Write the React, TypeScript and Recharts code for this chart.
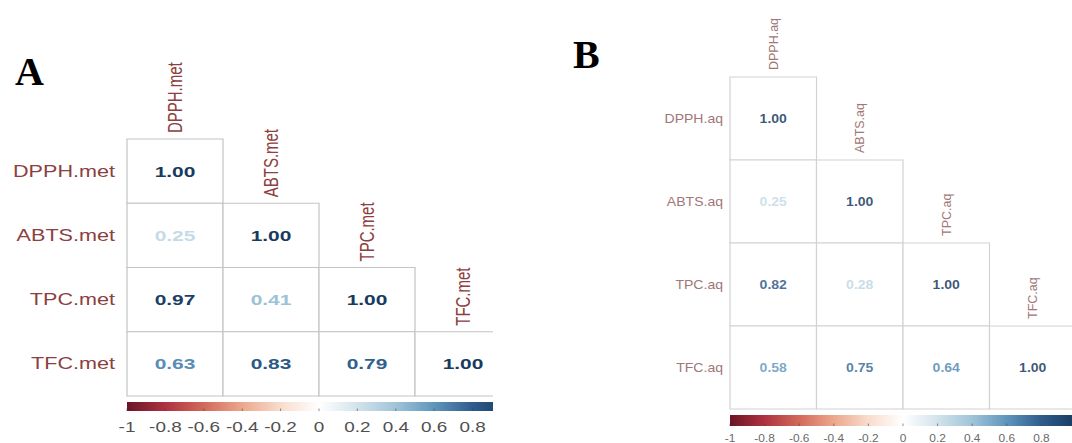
import React from "react";
import { ScatterChart, Scatter, XAxis, YAxis, ReferenceArea } from "recharts";

// variable names, in matrix order
const LABELS_A = ["DPPH.met", "ABTS.met", "TPC.met", "TFC.met"];
const LABELS_B = ["DPPH.aq", "ABTS.aq", "TPC.aq", "TFC.aq"];

// lower-triangle correlation rows (row r holds columns 0..r)
const CORR_A = [[1.0], [0.25, 1.0], [0.97, 0.41, 1.0], [0.63, 0.83, 0.79, 1.0]];
const CORR_B = [[1.0], [0.25, 1.0], [0.82, 0.28, 1.0], [0.58, 0.75, 0.64, 1.0]];

const SCALE_TICKS = [-1, -0.8, -0.6, -0.4, -0.2, 0, 0.2, 0.4, 0.6, 0.8, 1];

// RdBu-ish palette, a bit washed out like the scanned figure
const PALETTE: [number, string][] = [
  [-1, "#6b1424"],
  [-0.8, "#ad3340"],
  [-0.6, "#d2695a"],
  [-0.4, "#eca88c"],
  [-0.2, "#f8dccd"],
  [0, "#ffffff"],
  [0.2, "#d2e3ec"],
  [0.4, "#9fc4d8"],
  [0.6, "#5f95bb"],
  [0.8, "#2e5d8c"],
  [1, "#183a60"],
];

const hex = (s: string) => [1, 3, 5].map((i) => parseInt(s.slice(i, i + 2), 16));

function colorFor(v: number) {
  for (let i = 1; i < PALETTE.length; i++) {
    const [v1, c1] = PALETTE[i];
    const [v0, c0] = PALETTE[i - 1];
    if (v <= v1) {
      const t = (v - v0) / (v1 - v0);
      const a = hex(c0);
      const b = hex(c1);
      const m = a.map((x, k) => Math.round(x + (b[k] - x) * t));
      return `rgb(${m.join(",")})`;
    }
  }
  return PALETTE[PALETTE.length - 1][1];
}

type PanelStyle = {
  id: string;
  width: number;
  height: number;
  margin: { top: number; right: number; left: number; bottom: number };
  stretch: number;
  labelSize: number;
  colLabelSize: number;
  valueSize: number;
  tickSize: number;
  labelColor: string;
  tickColor: string;
  gridColor: string;
  rowGap: number;
  colGap: number;
  bar: [number, number]; // colorbar band, in row units below the grid
  tickBaseline: number;
  barBottom: number;
  valueOpacity: number;
};

const FONT = "'Liberation Sans', Arial, sans-serif";

function CorrPanel({ labels, corr, s }: { labels: string[]; corr: number[][]; s: PanelStyle }) {
  const n = labels.length;
  const cells = corr.flatMap((row, r) => row.map((v, c) => ({ x: c + 0.5, y: r + 0.5, r, c, v })));
  const rowLabels = labels.map((label, r) => ({ x: 0, y: r + 0.5, label }));
  const colLabels = labels.map((label, c) => ({ x: c + 0.5, y: c, label }));
  const ticks = SCALE_TICKS.map((v) => ({ x: v, y: n }));

  return (
    <ScatterChart width={s.width} height={s.height} margin={s.margin}>
      <defs>
        <linearGradient id={`cb-${s.id}`} x1="0" x2="1" y1="0" y2="0">
          {PALETTE.map(([v, c]) => (
            <stop key={v} offset={(v + 1) / 2} stopColor={c} />
          ))}
        </linearGradient>
      </defs>
      <XAxis xAxisId="grid" type="number" dataKey="x" domain={[0, n]} hide />
      <XAxis xAxisId="cb" type="number" dataKey="x" domain={[-1, 1]} hide />
      <YAxis type="number" dataKey="y" domain={[0, n]} reversed hide />

      {cells.map((d) => (
        <ReferenceArea
          key={`${d.r}-${d.c}`}
          xAxisId="grid"
          x1={d.c}
          x2={d.c + 1}
          y1={d.r}
          y2={d.r + 1}
          fill="#ffffff"
          fillOpacity={1}
          stroke={s.gridColor}
          strokeWidth={1.2}
          ifOverflow="visible"
        />
      ))}

      <ReferenceArea
        xAxisId="grid"
        x1={0}
        x2={n}
        y1={n + s.bar[0]}
        y2={n + s.bar[1]}
        fill={`url(#cb-${s.id})`}
        fillOpacity={1}
        stroke="none"
        ifOverflow="visible"
      />

      <Scatter
        xAxisId="cb"
        data={ticks}
        isAnimationActive={false}
        shape={(p: any) => (
          <g>
            <line
              x1={p.cx}
              x2={p.cx}
              y1={p.cy + s.barBottom - 2.5}
              y2={p.cy + s.barBottom}
              stroke="#444"
              strokeOpacity={0.6}
            />
            <text
              transform={`translate(${p.cx},${p.cy + s.tickBaseline}) scale(${s.stretch},1)`}
              textAnchor="middle"
              fontSize={s.tickSize}
              fontFamily={FONT}
              fill={s.tickColor}
            >
              {p.payload.x}
            </text>
          </g>
        )}
      />

      <Scatter
        xAxisId="grid"
        data={cells}
        isAnimationActive={false}
        shape={(p: any) => (
          <text
            transform={`translate(${p.cx},${p.cy}) scale(${s.stretch},1)`}
            textAnchor="middle"
            dominantBaseline="central"
            fontSize={s.valueSize}
            fontWeight="bold"
            fontFamily={FONT}
            fill={colorFor(p.payload.v)}
            fillOpacity={s.valueOpacity}
          >
            {p.payload.v.toFixed(2)}
          </text>
        )}
      />
      <Scatter
        xAxisId="grid"
        data={rowLabels}
        isAnimationActive={false}
        shape={(p: any) => (
          <text
            transform={`translate(${p.cx - s.rowGap},${p.cy}) scale(${s.stretch},1)`}
            textAnchor="end"
            dominantBaseline="central"
            fontSize={s.labelSize}
            fontFamily={FONT}
            fill={s.labelColor}
          >
            {p.payload.label}
          </text>
        )}
      />
      <Scatter
        xAxisId="grid"
        data={colLabels}
        isAnimationActive={false}
        shape={(p: any) => (
          <text
            transform={`translate(${p.cx},${p.cy - s.colGap}) scale(${s.stretch},1) rotate(-90)`}
            textAnchor="start"
            dominantBaseline="central"
            fontSize={s.colLabelSize}
            fontFamily={FONT}
            fill={s.labelColor}
          >
            {p.payload.label}
          </text>
        )}
      />
    </ScatterChart>
  );
}

const STYLE_A: PanelStyle = {
  id: "a",
  width: 520,
  height: 443,
  margin: { top: 139, right: 9, left: 127, bottom: 47 },
  stretch: 1.35,
  labelSize: 16,
  colLabelSize: 15,
  valueSize: 15.5,
  tickSize: 14,
  labelColor: "#8c4040",
  tickColor: "#505050",
  gridColor: "#c4c4c4",
  rowGap: 12,
  colGap: 6,
  bar: [0.093, 0.233],
  tickBaseline: 36,
  barBottom: 15,
  valueOpacity: 1,
};

const STYLE_B: PanelStyle = {
  id: "b",
  width: 530,
  height: 470,
  margin: { top: 77, right: 14, left: 170, bottom: 61 },
  stretch: 1.08,
  labelSize: 13,
  colLabelSize: 12.5,
  valueSize: 13,
  tickSize: 11,
  labelColor: "#a07676",
  tickColor: "#6a6a6a",
  gridColor: "#d2d2d2",
  rowGap: 7,
  colGap: 7,
  bar: [0.072, 0.205],
  tickBaseline: 32.5,
  barBottom: 17,
  valueOpacity: 0.85,
};

export default function App() {
  const title: React.CSSProperties = {
    position: "absolute",
    fontFamily: "'Liberation Serif', 'Times New Roman', serif",
    fontWeight: "bold",
    fontSize: 40,
    lineHeight: "40px",
    color: "#000",
  };
  return (
    <div
      style={{
        position: "absolute",
        left: 0,
        top: 0,
        width: 1072,
        height: 443,
        background: "#fff",
        overflow: "hidden",
      }}
    >
      <div style={{ position: "absolute", left: 0, top: 0, width: 493, height: 443, overflow: "hidden" }}>
        <CorrPanel labels={LABELS_A} corr={CORR_A} s={STYLE_A} />
      </div>
      <div style={{ position: "absolute", left: 560, top: 0, width: 512, height: 443, overflow: "hidden" }}>
        <CorrPanel labels={LABELS_B} corr={CORR_B} s={STYLE_B} />
      </div>
      <div style={{ ...title, left: 15, top: 52 }}>A</div>
      <div style={{ ...title, left: 573, top: 35 }}>B</div>
    </div>
  );
}
